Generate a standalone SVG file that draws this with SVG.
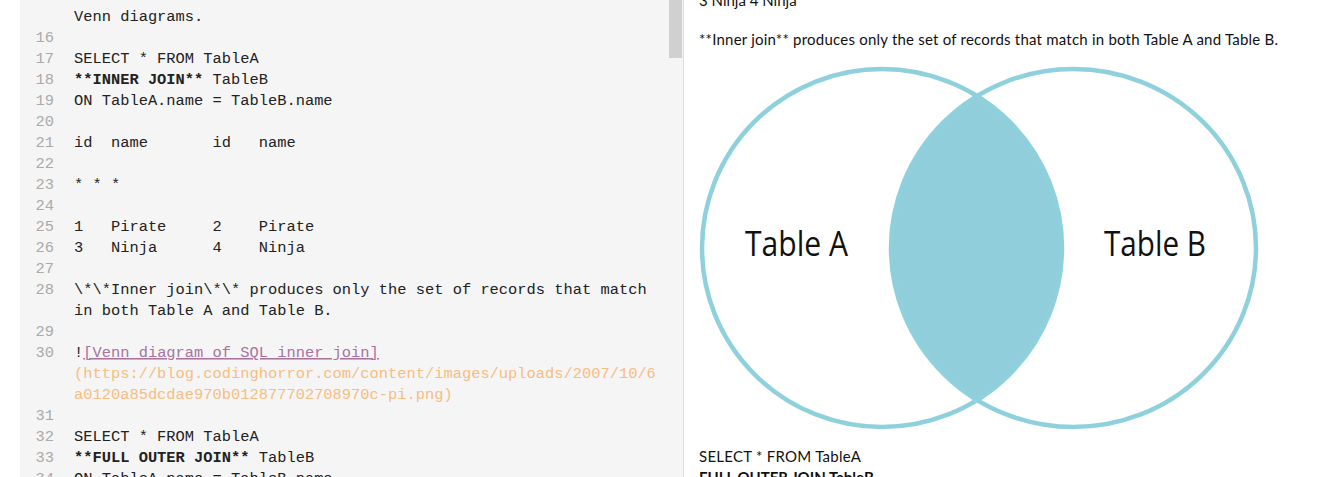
<svg xmlns="http://www.w3.org/2000/svg" width="1324" height="477" viewBox="0 0 1324 477">
  <style>
    .mono { font-family: "Liberation Mono", "DejaVu Sans Mono", monospace; font-size: 15.4px; fill: #222; white-space: pre; }
    .num { font-family: "Liberation Mono", "DejaVu Sans Mono", monospace; font-size: 15.4px; fill: #aaa; text-anchor: end; }
    .b { font-weight: bold; }
    .link { fill: #a8739f; text-decoration: underline; }
    .url { fill: #f6bd82; }
    .prev { font-family: Lato, "Liberation Sans", sans-serif; font-size: 15px; fill: #111; white-space: pre; }
    .venn { fill: none; stroke: #8fd0dd; stroke-width: 4.5; }
    .label { font-family: "Open Sans", "Liberation Sans", sans-serif; font-size: 34px; fill: #111; }
  </style>
  <defs>
    <clipPath id="clipA">
      <ellipse cx="882" cy="248" rx="180" ry="179"/>
    </clipPath>
  </defs>
  <rect x="0" y="0" width="1324" height="477" fill="#ffffff"/>

  <g id="editor">
    <rect x="20" y="0" width="663" height="477" fill="#f5f5f5"/>
    <line x1="683.5" y1="0" x2="683.5" y2="477" stroke="#dddddd" stroke-width="1"/>
    <rect id="scrollbar" x="669" y="0" width="13" height="58" fill="#d0d0d0"/>

    <g id="line-numbers">
      <text class="num" x="54" y="42">16</text>
      <text class="num" x="54" y="63">17</text>
      <text class="num" x="54" y="84">18</text>
      <text class="num" x="54" y="105">19</text>
      <text class="num" x="54" y="126">20</text>
      <text class="num" x="54" y="147">21</text>
      <text class="num" x="54" y="168">22</text>
      <text class="num" x="54" y="189">23</text>
      <text class="num" x="54" y="210">24</text>
      <text class="num" x="54" y="231">25</text>
      <text class="num" x="54" y="252">26</text>
      <text class="num" x="54" y="273">27</text>
      <text class="num" x="54" y="294">28</text>
      <text class="num" x="54" y="336">29</text>
      <text class="num" x="54" y="357">30</text>
      <text class="num" x="54" y="420">31</text>
      <text class="num" x="54" y="441">32</text>
      <text class="num" x="54" y="462">33</text>
      <text class="num" x="54" y="483">34</text>
    </g>

    <g id="source-lines">
      <text class="mono" x="74" y="21">Venn diagrams.</text>
      <text class="mono" x="74" y="63">SELECT * FROM TableA</text>
      <text class="mono" x="74" y="84" xml:space="preserve"><tspan class="b">**INNER JOIN**</tspan> TableB</text>
      <text class="mono" x="74" y="105">ON TableA.name = TableB.name</text>
      <text class="mono" x="74" y="147" xml:space="preserve">id  name       id   name</text>
      <text class="mono" x="74" y="189" xml:space="preserve">* * *</text>
      <text class="mono" x="74" y="231" xml:space="preserve">1   Pirate     2    Pirate</text>
      <text class="mono" x="74" y="252" xml:space="preserve">3   Ninja      4    Ninja</text>
      <text class="mono" x="74" y="294" xml:space="preserve">\*\*Inner join\*\* produces only the set of records that match</text>
      <text class="mono" x="74" y="315" xml:space="preserve">in both Table A and Table B.</text>
      <text class="mono" x="74" y="357">!<tspan class="link">[Venn diagram of SQL inner join]</tspan></text>
      <text class="mono url" x="74" y="378">(https://blog.codinghorror.com/content/images/uploads/2007/10/6</text>
      <text class="mono url" x="74" y="399">a0120a85dcdae970b012877702708970c-pi.png)</text>
      <text class="mono" x="74" y="441">SELECT * FROM TableA</text>
      <text class="mono" x="74" y="462" xml:space="preserve"><tspan class="b">**FULL OUTER JOIN**</tspan> TableB</text>
      <text class="mono" x="74" y="483">ON TableA.name = TableB.name</text>
    </g>
  </g>

  <g id="preview">
    <text class="prev" x="699" y="6">3 Ninja 4 Ninja</text>
    <text class="prev" x="699" y="45" textLength="579" lengthAdjust="spacing">**Inner join** produces only the set of records that match in both Table A and Table B.</text>
    <text class="prev" x="699" y="462" textLength="162" lengthAdjust="spacing">SELECT * FROM TableA</text>
    <text class="prev b" x="699" y="483">FULL OUTER JOIN TableB</text>
  </g>

  <g id="venn">
    <g id="intersection">
      <ellipse cx="1073.5" cy="248" rx="182.5" ry="179" fill="#90cedc" clip-path="url(#clipA)"/>
    </g>
    <g id="table-a">
      <ellipse class="venn" cx="882" cy="248" rx="180" ry="179"/>
      <text class="label" x="745" y="256" textLength="103" lengthAdjust="spacingAndGlyphs">Table A</text>
    </g>
    <g id="table-b">
      <ellipse class="venn" cx="1073.5" cy="248" rx="182.5" ry="179"/>
      <text class="label" x="1104" y="256" textLength="102" lengthAdjust="spacingAndGlyphs">Table B</text>
    </g>
  </g>
</svg>
